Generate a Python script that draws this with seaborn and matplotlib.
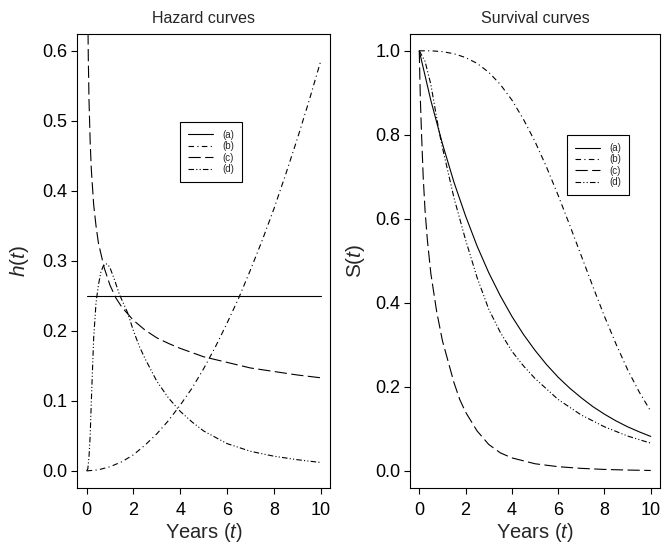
import numpy as np
import pandas as pd
import matplotlib
matplotlib.use("Agg")
import matplotlib.pyplot as plt
import seaborn as sns

# ---------------- data ----------------
labels = ["(a)", "(b)", "(c)", "(d)"]

# Hazard curves
haz_a_t = [0, 10]
haz_a_h = [0.25, 0.25]

haz_b_t = [0, 0.5, 1, 1.5, 2, 2.5, 3, 3.5, 4, 4.5, 5, 5.5, 6, 6.5, 7, 7.5, 8, 8.5, 9, 9.5, 10]
haz_b_h = [0.0, 0.0015, 0.006, 0.013, 0.023, 0.037, 0.053, 0.072, 0.094, 0.118, 0.146,
           0.177, 0.211, 0.247, 0.287, 0.329, 0.374, 0.423, 0.474, 0.528, 0.585]

haz_c_t = [0.04, 0.07, 0.1, 0.15, 0.2, 0.3, 0.4, 0.5, 0.75, 1, 1.25, 1.5, 2, 2.5, 3, 3.5, 4,
           5, 6, 7, 8, 9, 10]
haz_c_h = [0.69, 0.59, 0.53, 0.47, 0.43, 0.38, 0.35, 0.326, 0.29, 0.265, 0.247, 0.234, 0.215,
           0.201, 0.190, 0.182, 0.175, 0.163, 0.155, 0.147, 0.142, 0.137, 0.133]

haz_d_t = [0, 0.05, 0.1, 0.15, 0.2, 0.3, 0.4, 0.5, 0.6, 0.7, 0.8, 0.9, 1.0, 1.2, 1.4, 1.75, 2.0,
           2.25, 2.5, 3.0, 3.5, 4.0, 4.5, 5.0, 6.0, 7.0, 8.0, 9.0, 10]
haz_d_h = [0.0, 0.003, 0.02, 0.05, 0.10, 0.19, 0.24, 0.265, 0.283, 0.292, 0.296, 0.295, 0.29,
           0.272, 0.252, 0.226, 0.20, 0.178, 0.16, 0.128, 0.104, 0.085, 0.07, 0.057, 0.039,
           0.028, 0.021, 0.016, 0.012]

# Survival curves
surv_a_t = [0, 0.5, 1, 1.5, 2, 2.5, 3, 3.5, 4, 4.5, 5, 5.5, 6, 6.5, 7, 7.5, 8, 8.5, 9, 9.5, 10]
surv_a_s = [1.0, 0.882, 0.779, 0.687, 0.607, 0.535, 0.472, 0.417, 0.368, 0.325, 0.287,
            0.253, 0.223, 0.197, 0.174, 0.153, 0.135, 0.119, 0.105, 0.093, 0.082]

surv_b_t = [0, 0.5, 1, 1.5, 2, 2.5, 3, 3.5, 4, 4.5, 5, 5.5, 6, 6.5, 7, 7.5, 8, 8.5, 9, 9.5, 10]
surv_b_s = [1.0, 1.0, 0.998, 0.993, 0.984, 0.970, 0.949, 0.920, 0.883, 0.837, 0.784,
            0.723, 0.656, 0.585, 0.512, 0.439, 0.368, 0.302, 0.241, 0.188, 0.142]

surv_c_t = [0, 0.02, 0.05, 0.1, 0.17, 0.25, 0.35, 0.5, 0.75, 1.0, 1.25, 1.5, 1.75, 2.0, 2.5,
            3.0, 3.5, 4.0, 5.0, 6.0, 7.0, 8.0, 9.0, 10]
surv_c_s = [1.0, 0.95, 0.88, 0.80, 0.70, 0.62, 0.55, 0.47, 0.38, 0.31, 0.26, 0.21, 0.17,
            0.14, 0.095, 0.063, 0.043, 0.031, 0.017, 0.010, 0.006, 0.0035, 0.002, 0.001]

surv_d_t = [0, 0.25, 0.5, 0.85, 1.0, 1.5, 2.0, 2.5, 3.0, 3.5, 4.0, 4.5, 5.0, 6.0, 7.0, 8.0, 9.0, 10]
surv_d_s = [1.0, 0.975, 0.92, 0.81, 0.77, 0.65, 0.55, 0.46, 0.385, 0.33, 0.285, 0.25, 0.22,
            0.17, 0.133, 0.105, 0.083, 0.066]

x_ticks = [0, 2, 4, 6, 8, 10]
haz_ticks = [0.0, 0.1, 0.2, 0.3, 0.4, 0.5, 0.6]
surv_ticks = [0.0, 0.2, 0.4, 0.6, 0.8, 1.0]

# ---------------- style ----------------
sns.set_style("white")
plt.rcParams["font.family"] = ["Liberation Sans", "DejaVu Sans"]
plt.rcParams["mathtext.fontset"] = "custom"
plt.rcParams["mathtext.rm"] = "Liberation Sans"
plt.rcParams["mathtext.it"] = "Liberation Sans:italic"

styles = [
    "-",
    (0, (5, 3, 1, 3)),
    (0, (11, 4)),
    (0, (5, 2, 1, 2, 1, 2)),
]
lw = 0.8

fig = plt.figure(figsize=(6.65, 5.46), dpi=100)
W, H = 665.0, 546.0
bottom = 1 - 487.7 / H
height = 453.7 / H
ax1 = fig.add_axes([77.3 / W, bottom, 252.7 / W, height])
ax2 = fig.add_axes([410.0 / W, bottom, 250.0 / W, height])

haz = [(haz_a_t, haz_a_h), (haz_b_t, haz_b_h), (haz_c_t, haz_c_h), (haz_d_t, haz_d_h)]
surv = [(surv_a_t, surv_a_s), (surv_b_t, surv_b_s), (surv_c_t, surv_c_s), (surv_d_t, surv_d_s)]

for ax, series in ((ax1, haz), (ax2, surv)):
    for (t, v), lab, ls in zip(series, labels, styles):
        df = pd.DataFrame({"t": t, "v": v})
        sns.lineplot(data=df, x="t", y="v", ax=ax, color="black", linewidth=lw,
                     linestyle=ls, label=lab, sort=False, estimator=None)

for ax in (ax1, ax2):
    ax.set_xlim(-0.4, 10.4)
    ax.set_xticks(x_ticks)
    ax.set_xticklabels([str(v) for v in x_ticks])
    for sp in ax.spines.values():
        sp.set_visible(True)
        sp.set_color("black")
        sp.set_linewidth(0.8)
    ax.tick_params(axis="both", which="both", direction="out", length=4, width=0.8,
                   colors="black", labelsize=13, left=True, bottom=True)
    ax.tick_params(axis="x", pad=6)
    ax.tick_params(axis="y", pad=3)
    ax.set_xlabel("Years ($t$)", fontsize=14.5)
    ax.xaxis.set_label_coords(0.5, -0.074)

ax1.set_ylim(-0.024, 0.624)
ax1.set_yticks(haz_ticks)
ax1.set_yticklabels([f"{v:.1f}" for v in haz_ticks])
ax2.set_ylim(-0.04, 1.04)
ax2.set_yticks(surv_ticks)
ax2.set_yticklabels([f"{v:.1f}" for v in surv_ticks])

ax1.set_ylabel(r"$h\mathrm{(}t\mathrm{)}$", fontsize=15)
ax2.set_ylabel(r"$\mathrm{S(}t\mathrm{)}$", fontsize=15)
ax1.yaxis.set_label_coords(-0.185, 0.5)
ax2.yaxis.set_label_coords(-0.172, 0.5)

ax1.set_title("Hazard curves", fontsize=11.5, pad=8)
ax2.set_title("Survival curves", fontsize=11.5, pad=8)

leg_kw = dict(loc="upper left", fontsize=7, frameon=True, fancybox=False,
              edgecolor="black", framealpha=1, borderaxespad=0, handlelength=2.6,
              handletextpad=1.0, labelspacing=0.15, borderpad=0.8)
l1 = ax1.legend(bbox_to_anchor=(0.406, 0.806), **leg_kw)
l2 = ax2.legend(bbox_to_anchor=(0.628, 0.777), **leg_kw)
for l in (l1, l2):
    l.get_frame().set_linewidth(0.8)

fig.savefig("out.png", dpi=100)
